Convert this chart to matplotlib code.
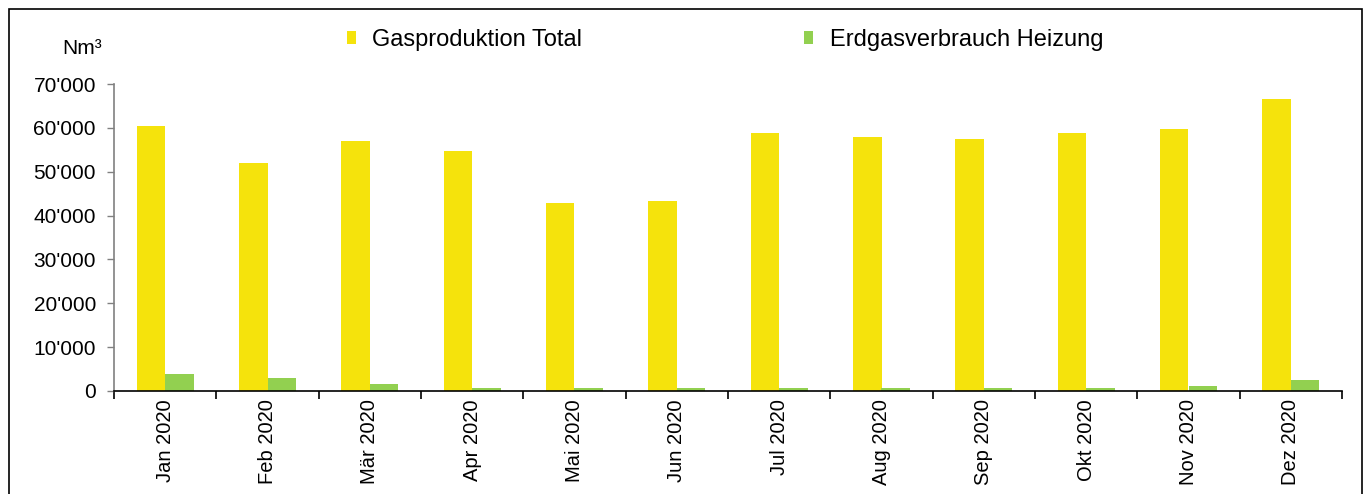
import matplotlib
matplotlib.use("Agg")
import matplotlib.pyplot as plt
import numpy as np
from matplotlib.patches import Rectangle
from matplotlib.ticker import FuncFormatter, FixedLocator

months = ["Jan 2020", "Feb 2020", "Mär 2020", "Apr 2020", "Mai 2020", "Jun 2020",
          "Jul 2020", "Aug 2020", "Sep 2020", "Okt 2020", "Nov 2020", "Dez 2020"]
gasproduktion = [60400, 52000, 57000, 54700, 42900, 43300,
                 58800, 57900, 57500, 58800, 59700, 66600]
erdgas_heizung = [3900, 3000, 1600, 700, 600, 600,
                  600, 600, 600, 600, 1100, 2500]

YELLOW = "#F5E30C"
GREEN = "#92D050"

plt.rcParams["font.family"] = ["Liberation Sans", "DejaVu Sans"]

fig = plt.figure(figsize=(13.7, 4.94), dpi=100)
ax = fig.add_axes([114 / 1370, 1 - 391 / 494, (1342 - 114) / 1370, (391 - 84) / 494])

x = np.arange(len(months))
w = 0.28
ax.bar(x - w / 2, gasproduktion, w, color=YELLOW, label="Gasproduktion Total")
ax.bar(x + w / 2, erdgas_heizung, w, color=GREEN, label="Erdgasverbrauch Heizung")

ax.set_xlim(-0.5, len(months) - 0.5)
ax.set_ylim(0, 70000)
ax.set_yticks(np.arange(0, 70001, 10000))
ax.yaxis.set_major_formatter(FuncFormatter(lambda v, p: f"{v:,.0f}".replace(",", "'")))

ax.set_xticks(x)
ax.set_xticklabels(months, rotation=90, fontsize=14.5)
ax.xaxis.set_minor_locator(FixedLocator(np.arange(-0.5, len(months), 1)))
ax.tick_params(axis="x", which="major", length=0, pad=6)
ax.tick_params(axis="x", which="minor", length=6, width=1.2, color="black")
ax.tick_params(axis="y", length=5, width=1, color="#808080", labelsize=15, pad=8)

for s in ["top", "right"]:
    ax.spines[s].set_visible(False)
ax.spines["left"].set_color("#808080")
ax.spines["left"].set_linewidth(1.2)
ax.spines["bottom"].set_color("black")
ax.spines["bottom"].set_linewidth(1.2)

fig.text(62 / 1370, 1 - 48 / 494, "Nm³", fontsize=15, va="center", ha="left")

fig.legend(loc="center left", bbox_to_anchor=(347 / 1370, 1 - 40 / 494), ncol=2,
           frameon=False, fontsize=17, handlelength=0.36, handleheight=0.5,
           handletextpad=0.72, columnspacing=9.4, borderpad=0, borderaxespad=0)

fig.patches.append(Rectangle((9 / 1370, -0.05), (1362 - 9) / 1370, 1.05 - 9 / 494,
                             transform=fig.transFigure, fill=False,
                             edgecolor="black", linewidth=1.2))

fig.savefig("out.png", dpi=100)
